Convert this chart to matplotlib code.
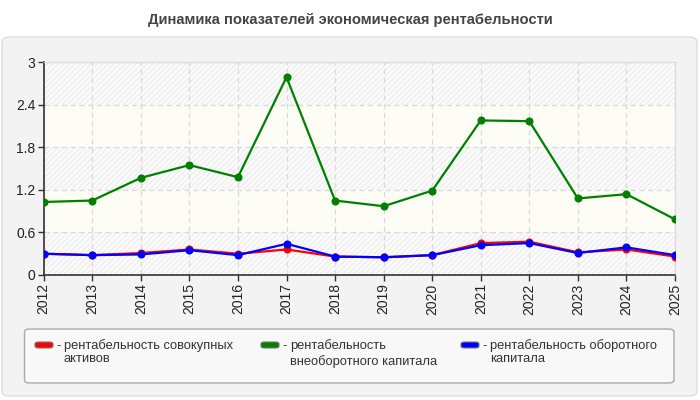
import matplotlib
matplotlib.use("Agg")
import matplotlib.pyplot as plt
from matplotlib.patches import FancyBboxPatch

plt.rcParams['font.family'] = ['Liberation Sans', 'DejaVu Sans']
plt.rcParams['hatch.linewidth'] = 0.6

years = ['2012', '2013', '2014', '2015', '2016', '2017', '2018',
         '2019', '2020', '2021', '2022', '2023', '2024', '2025']
total_assets = [0.30, 0.28, 0.31, 0.36, 0.30, 0.36, 0.26,
                0.25, 0.28, 0.45, 0.47, 0.32, 0.36, 0.26]
noncurrent = [1.03, 1.05, 1.37, 1.55, 1.38, 2.79, 1.05,
              0.97, 1.19, 2.18, 2.17, 1.08, 1.14, 0.785]
current = [0.30, 0.28, 0.29, 0.35, 0.28, 0.44, 0.26,
           0.25, 0.28, 0.42, 0.45, 0.31, 0.39, 0.28]
yticks = [0, 0.6, 1.2, 1.8, 2.4, 3]
ytick_labels = ['0', '0.6', '1.2', '1.8', '2.4', '3']
labels = ['рентабельность совокупных\nактивов',
          'рентабельность\nвнеоборотного капитала',
          'рентабельность оборотного\nкапитала']
colors = ['#ff0000', '#008000', '#0000ff']
title = 'Динамика показателей экономическая рентабельности'

W, H = 700, 400
fig = plt.figure(figsize=(7, 4), dpi=100, facecolor='white')

def fx(px):
    return px / W

def fy(py):
    return 1 - py / H

# outer panel
panel = FancyBboxPatch((fx(2), fy(396)), fx(695), (396 - 37) / H,
                       boxstyle="round,pad=0,rounding_size=0.012",
                       transform=fig.transFigure, facecolor='#f3f3f3',
                       edgecolor='#dedede', linewidth=1.0, zorder=0)
fig.add_artist(panel)

fig.text(0.5, fy(20), title, ha='center', va='center', fontsize=10.6,
         fontweight='bold', color='#444444')

ax = fig.add_axes([fx(43.7), fy(275), fx(675 - 43.7), (275 - 62.3) / H])
ax.set_facecolor('#fafafa')
x = list(range(len(years)))

# background bands
for i in range(len(yticks) - 1):
    lo, hi = yticks[i], yticks[i + 1]
    if i % 2 == 0:
        ax.axhspan(lo, hi, facecolor='#fafafa', edgecolor='#e9e9e9',
                   hatch='//////', linewidth=0, zorder=0)
    else:
        ax.axhspan(lo, hi, facecolor='#fdfdf5', edgecolor='none',
                   linewidth=0, zorder=0)

ax.grid(True, color='#d9d9d9', linestyle=(0, (4, 3)), linewidth=0.9, zorder=1)

for series, c in zip([total_assets, noncurrent, current], colors):
    ax.plot(x, series, color=c, linewidth=1.6, marker='o', markersize=4.8,
            zorder=3)

ax.set_xlim(0, len(years) - 1)
ax.set_ylim(0, 3)
ax.set_xticks(x)
ax.set_xticklabels(years, rotation=90, fontsize=10, color='#222222')
ax.set_yticks(yticks)
ax.set_yticklabels(ytick_labels, fontsize=10, color='#222222')
ax.tick_params(axis='both', length=4, width=1, color='#333333', pad=2)
for s in ['left', 'bottom']:
    ax.spines[s].set_color('#333333')
    ax.spines[s].set_linewidth(1.2)
for s in ['top', 'right']:
    ax.spines[s].set_color('#dddddd')
    ax.spines[s].set_linewidth(1.0)

# legend box
leg = FancyBboxPatch((fx(24.5), fy(383)), fx(674 - 24.5), (383 - 329) / H,
                     boxstyle="round,pad=0,rounding_size=0.008",
                     transform=fig.transFigure, facecolor='#f8f8f8',
                     edgecolor='#aaaaaa', linewidth=1.0, zorder=1)
fig.add_artist(leg)

hx = [35, 261, 461]
gaps = [13, 16, 13]
for lab, c, px, gap in zip(labels, colors, hx, gaps):
    h = FancyBboxPatch((fx(px), fy(348)), fx(18), 6 / H,
                       boxstyle="round,pad=0,rounding_size=0.005",
                       transform=fig.transFigure, facecolor=c,
                       edgecolor='#777777', linewidth=0.8, zorder=2)
    fig.add_artist(h)
    fig.text(fx(px + 21), fy(346), '-', ha='left', va='center', fontsize=9.3,
             color='#333333', zorder=3)
    for j, line in enumerate(lab.split('\n')):
        fig.text(fx(px + 29), fy(346 + j * gap), line, ha='left',
                 va='center', fontsize=9.3, color='#333333', zorder=3)

fig.savefig('out.png', dpi=100, facecolor='white')
